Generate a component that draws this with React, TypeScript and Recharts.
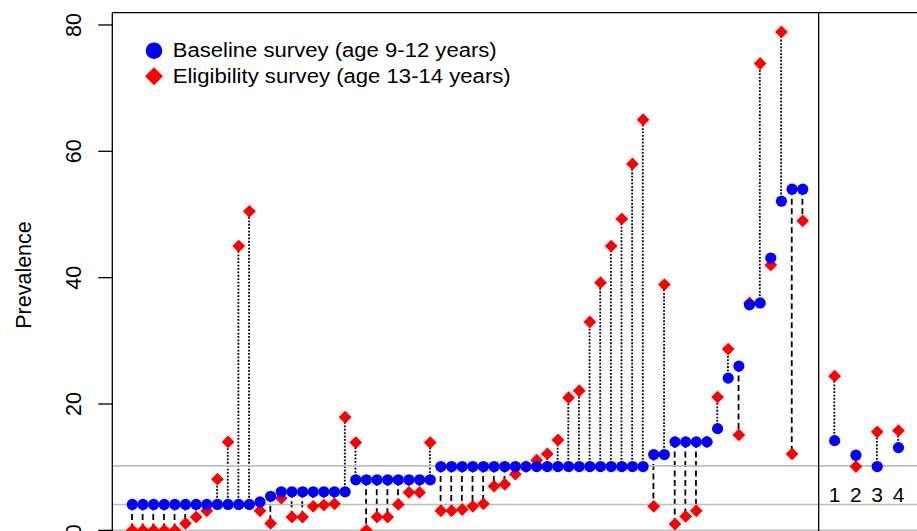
import { ComposedChart, Bar, Scatter, XAxis, YAxis, ReferenceLine } from "recharts";

// baseline survey (age 9-12), one value per site, sorted
const baseline = [
  4.1, 4.1, 4.1, 4.1, 4.1, 4.1, 4.1, 4.1, 4.1, 4.1, 4.1, 4.1, 4.5, 5.4, 6.1, 6.1,
  6.1, 6.1, 6.1, 6.1, 6.1, 8.0, 8.0, 8.0, 8.0, 8.0, 8.0, 8.0, 8.0, 10.1, 10.1, 10.1,
  10.1, 10.1, 10.1, 10.1, 10.1, 10.1, 10.1, 10.1, 10.1, 10.1, 10.1, 10.1, 10.1, 10.1, 10.1, 10.1,
  10.1, 12.0, 12.0, 14.0, 14.0, 14.0, 14.0, 16.1, 24.1, 26.0, 35.7, 36.0, 43.1, 52.1, 54.0, 54.0,
];

// eligibility survey (age 13-14), same sites
const eligibility = [
  0, 0, 0, 0, 0, 1.1, 2.1, 3.1, 8.1, 14.0, 45.0, 50.5, 3.1, 1.1, 5.1, 2.1,
  2.1, 3.8, 4.0, 4.2, 17.9, 13.9, 0, 2.1, 2.1, 4.1, 6.0, 6.0, 13.9, 3.1, 3.1, 3.3,
  3.8, 4.2, 7.0, 7.3, 8.9, 10.1, 11.1, 12.1, 14.3, 21.0, 22.1, 33.0, 39.2, 45.0, 49.3, 58.0,
  65.0, 3.8, 38.9, 1.0, 2.2, 3.1, 14.0, 21.1, 28.7, 15.1, 36.0, 73.9, 42.0, 78.9, 12.1, 49.0,
];

// pooled groups to the right of the divider
const groupLabels = ["1", "2", "3", "4"];
const groupPositions = [67, 69, 71, 73];
const groupBaseline = [14.2, 11.9, 10.1, 13.1];
const groupEligibility = [24.4, 10.1, 15.6, 15.8];

const referenceLevels = [0, 4.1, 10.2];
const yTicks = [0, 20, 40, 60, 80];
const dividerAt = 65.5;
const groupLabelLevel = 5.6;

const X_DOMAIN: [number, number] = [-0.88, 74.74];
const Y_DOMAIN: [number, number] = [-1.1, 81.94];

const FONT = "'Liberation Sans', Arial, Helvetica, sans-serif";

const rows = [
  ...baseline.map((b, i) => ({ x: i + 1, blue: b, red: eligibility[i] })),
  ...groupPositions.map((p, i) => ({ x: p, blue: groupBaseline[i], red: groupEligibility[i] })),
].map((d) => ({ ...d, range: [Math.min(d.blue, d.red), Math.max(d.blue, d.red)] }));

const labelRows = groupLabels.map((label, i) => ({ x: groupPositions[i], y: groupLabelLevel, label }));

const Connector = (props: any) => {
  const { x, y, width, height, payload } = props;
  if (!height || Math.abs(height) < 0.5) return null;
  const cx = x + width / 2;
  const up = payload.red > payload.blue;
  // dotted when prevalence went up, dashed when it went down
  return (
    <line
      x1={cx}
      x2={cx}
      y1={up ? y + height : y}
      y2={up ? y : y + height}
      stroke="#000"
      strokeWidth={1.8}
      strokeDasharray={up ? "1.8 1.6" : "6 3.5"}
    />
  );
};

const Diamond = ({ cx, cy }: any) => (
  <polygon
    points={`${cx},${cy - 6.4} ${cx + 6.4},${cy} ${cx},${cy + 6.4} ${cx - 6.4},${cy}`}
    fill="#ff0000"
  />
);

const Dot = ({ cx, cy }: any) => <circle cx={cx} cy={cy} r={5.6} fill="#0000ff" />;

const GroupLabel = ({ cx, cy, payload }: any) => (
  <text x={cx} y={cy} textAnchor="middle" dominantBaseline="central" fontSize={21} fontFamily={FONT} fill="#000">
    {payload.label}
  </text>
);

const RotatedTick = ({ x, y, payload }: any) => (
  <text
    x={x}
    y={y}
    transform={`rotate(-90 ${x} ${y})`}
    textAnchor="middle"
    fontSize={21.5}
    fontFamily={FONT}
    fill="#000"
  >
    {payload.value}
  </text>
);

const AxisTitle = ({ viewBox }: any) => {
  const x = viewBox.x + 30.5;
  const y = viewBox.y + viewBox.height / 2;
  return (
    <text x={x} y={y} transform={`rotate(-90 ${x} ${y})`} textAnchor="middle" fontSize={21.5} fontFamily={FONT} fill="#000">
      Prevalence
    </text>
  );
};

const LegendBox = () => (
  <svg width={400} height={60} style={{ position: "absolute", left: 140, top: 36 }}>
    <circle cx={14} cy={14.7} r={8.3} fill="#0000ff" />
    <polygon points="14,31.2 23,40.2 14,49.2 5,40.2" fill="#ff0000" />
    <text x={32.7} y={20.8} fontSize={19.5} fontFamily={FONT} fill="#000" textLength={324} lengthAdjust="spacingAndGlyphs">
      Baseline survey (age 9-12 years)
    </text>
    <text x={32.7} y={47} fontSize={19.5} fontFamily={FONT} fill="#000" textLength={338} lengthAdjust="spacingAndGlyphs">
      Eligibility survey (age 13-14 years)
    </text>
  </svg>
);

export default function App() {
  return (
    <div
      style={{
        position: "fixed",
        left: 0,
        top: 0,
        width: 917,
        height: 531,
        overflow: "hidden",
        background: "#fff",
      }}
    >
      <ComposedChart width={917} height={545} data={rows} margin={{ top: 12.7, right: 0, left: 0, bottom: 7.7 }}>
        <XAxis dataKey="x" type="number" domain={X_DOMAIN} allowDataOverflow hide />
        <YAxis
          type="number"
          domain={Y_DOMAIN}
          ticks={yTicks}
          allowDataOverflow
          width={112.3}
          tickSize={14}
          tickMargin={17}
          axisLine={{ stroke: "#000", strokeWidth: 1.3 }}
          tickLine={{ stroke: "#000", strokeWidth: 1.3 }}
          tick={<RotatedTick />}
          label={{ content: <AxisTitle /> }}
        />
        {referenceLevels.map((v) => (
          <ReferenceLine key={v} y={v} stroke="#bebebe" strokeWidth={1.6} ifOverflow="visible" />
        ))}
        <ReferenceLine y={Y_DOMAIN[1]} stroke="#000" strokeWidth={1.3} ifOverflow="visible" />
        <ReferenceLine x={dividerAt} stroke="#000" strokeWidth={1.3} ifOverflow="visible" />
        <Bar dataKey="range" barSize={2} shape={<Connector />} isAnimationActive={false} />
        <Scatter dataKey="red" shape={<Diamond />} isAnimationActive={false} />
        <Scatter dataKey="blue" shape={<Dot />} isAnimationActive={false} />
        <Scatter data={labelRows} dataKey="y" shape={<GroupLabel />} isAnimationActive={false} />
      </ComposedChart>
      <LegendBox />
    </div>
  );
}
